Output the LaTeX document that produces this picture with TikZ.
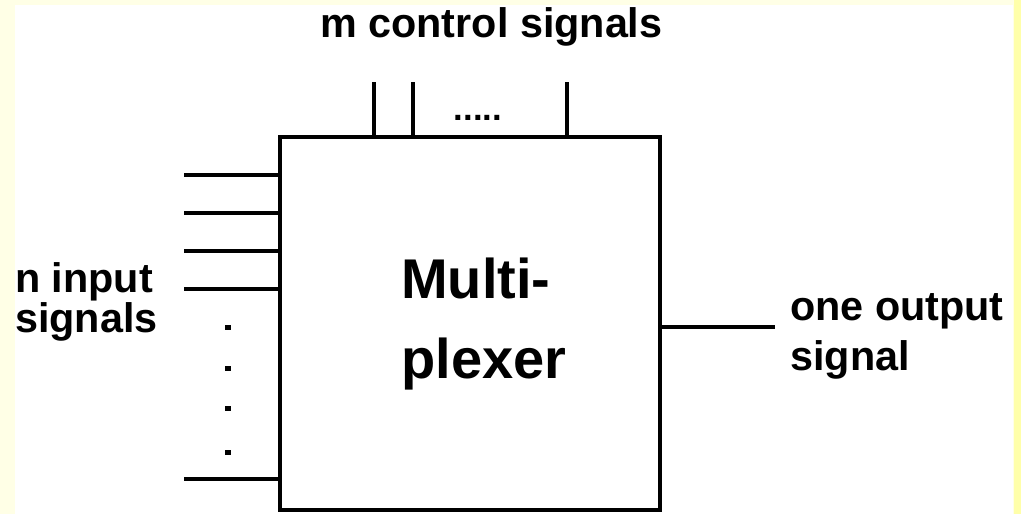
\documentclass[tikz,border=0pt]{standalone}
\usepackage{fontspec}
\setmainfont{Liberation Sans}
\definecolor{paleyellow}{HTML}{FFFFE6}
\definecolor{edgeyellow}{HTML}{FFFFAA}

\begin{document}
\begin{tikzpicture}[x=0.75pt,y=-0.75pt,every node/.style={font=\bfseries\fontsize{31}{30}\selectfont,inner sep=0pt},wire/.style={line width=2.6pt}]
\useasboundingbox (0,0) rectangle (1021,514);
\fill[paleyellow] (0,0) rectangle (1021,514);
\fill[edgeyellow] (1014,0) rectangle (1021,514);
\fill[white] (15,5) rectangle (1013,514);
\node[draw,line width=3pt,minimum width=285pt,minimum height=280pt] (mux) at (470,323.5) {};
\node[anchor=base west,align=left,font=\bfseries\fontsize{42}{60}\selectfont] (muxtext) at (401,378) {Multi-\\plexer};
\foreach \y [count=\i] in {175,213,251,289,479} {
  \coordinate (in\i) at (184,\y);
  \draw[wire] (in\i) -- (in\i -| mux.west);
}
\foreach \y in {325,366,406,450} \fill (225,\y) rectangle (231,\y+5);
\foreach \x [count=\i] in {374,413,567} {
  \coordinate (ctl\i) at (\x,82);
  \draw[wire] (ctl\i) -- (ctl\i |- mux.north);
}
\coordinate (out) at (775,327);
\draw[wire] (mux.east |- out) -- (out);
\node[anchor=base west] (ctrllabel) at (320,37) {m control signals};
\node[anchor=base,font=\bfseries\fontsize{26}{26}\selectfont] (more) at (478,120) {.....};
\node[anchor=base west,align=left] (inlabel) at (15,332) {n input\\signals};
\node[anchor=base west,align=left,font=\bfseries\fontsize{31}{37.5}\selectfont] (outlabel) at (790,370) {one output\\signal};
\end{tikzpicture}
\end{document}
